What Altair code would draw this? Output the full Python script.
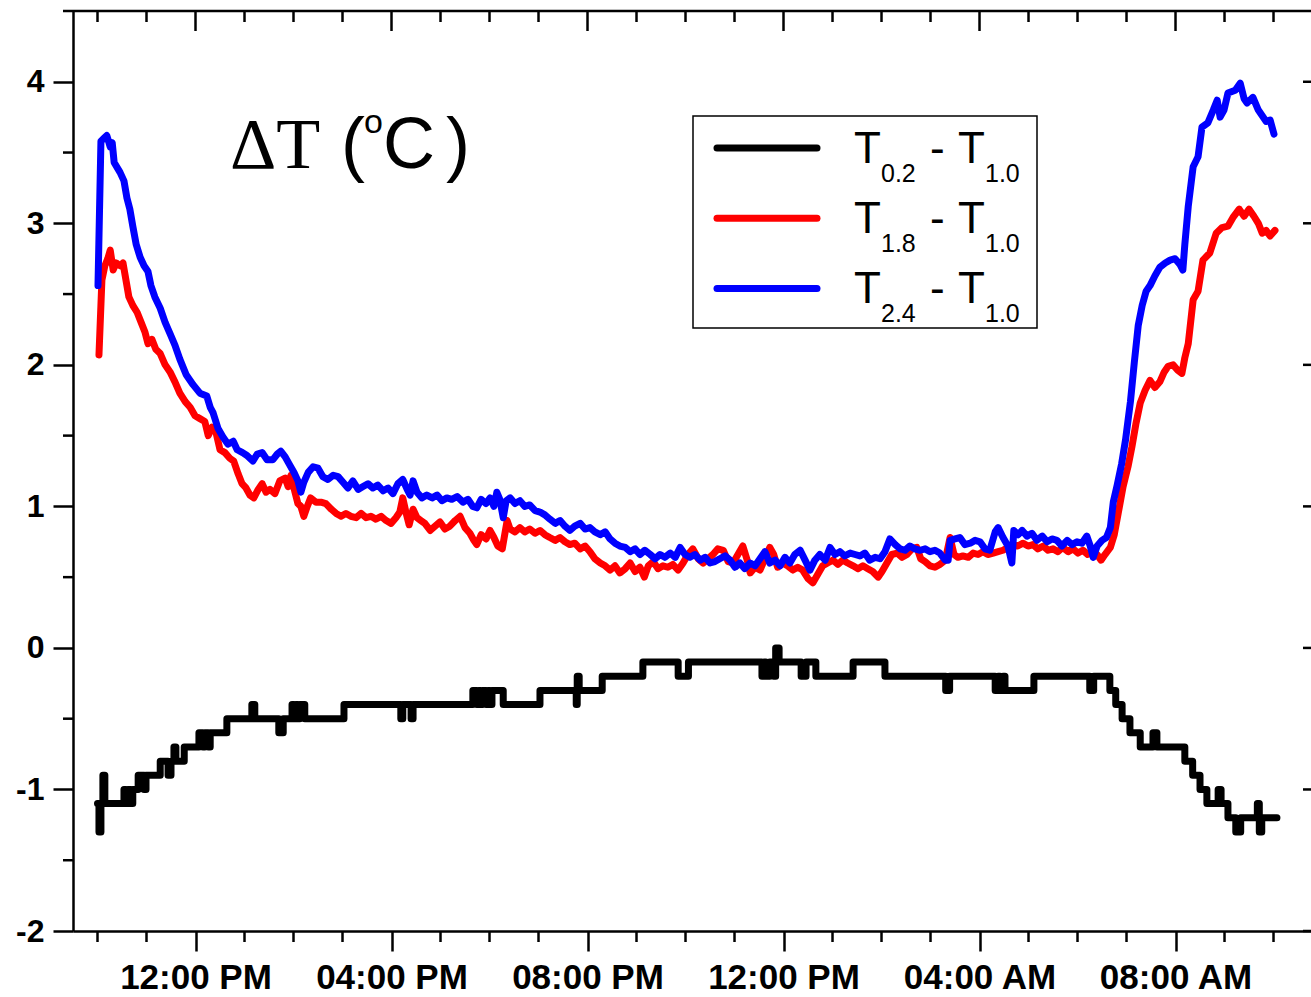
import json

import altair as alt
import pandas as pd

# ---------------------------------------------------------------------------
# Temperature differences between sensor heights (°C) over one day.
# Time is given in hours after 10:00 AM.
# ---------------------------------------------------------------------------

# T0.2 - T1.0 (logged at 0.1 °C resolution, drawn as steps)
BLACK_H = [0.00, 0.03, 0.07, 0.11, 0.15, 0.54, 0.58, 0.62, 0.68, 0.72, 0.83, 0.95,
           0.99, 1.28, 1.44, 1.50, 1.56, 1.60, 1.77, 2.07, 2.15, 2.19, 2.26, 2.30,
           2.64, 3.15, 3.21, 3.70, 3.79, 3.97, 4.01, 4.05, 4.09, 4.13, 4.23, 5.03,
           6.19, 6.23, 6.40, 6.44, 7.66, 7.74, 7.78, 7.82, 7.86, 7.93, 7.97, 8.01,
           8.05, 8.28, 9.03, 9.77, 9.79, 9.83, 10.30, 11.13, 11.85, 12.06, 13.56,
           13.60, 13.64, 13.72, 13.80, 13.84, 13.91, 14.36, 14.46, 14.66, 15.42,
           16.07, 17.31, 17.39, 18.32, 18.38, 18.42, 18.48, 18.52, 19.11, 20.25,
           20.33, 20.66, 20.78, 20.91, 21.07, 21.28, 21.54, 21.62, 22.19, 22.35,
           22.50, 22.64, 22.87, 22.93, 23.07, 23.23, 23.33, 23.67, 23.71, 23.76,
           24.07]
BLACK_V = [-1.1, -1.3, -1.1, -0.9, -1.1, -1.0, -1.1, -1.0, -1.1, -1.0, -0.9, -1.0,
           -0.9, -0.8, -0.9, -0.8, -0.7, -0.8, -0.7, -0.6, -0.7, -0.6, -0.7, -0.6,
           -0.5, -0.4, -0.5, -0.6, -0.5, -0.4, -0.5, -0.4, -0.5, -0.4, -0.5, -0.4,
           -0.5, -0.4, -0.5, -0.4, -0.3, -0.4, -0.3, -0.4, -0.3, -0.4, -0.3, -0.4,
           -0.3, -0.4, -0.3, -0.4, -0.2, -0.3, -0.2, -0.1, -0.2, -0.1, -0.2,
           -0.1, -0.2, -0.1, -0.2, 0.0, -0.1, -0.2, -0.1, -0.2, -0.1,
           -0.2, -0.3, -0.2, -0.3, -0.2, -0.3, -0.2, -0.3, -0.2, -0.3,
           -0.2, -0.3, -0.4, -0.5, -0.6, -0.7, -0.6, -0.7, -0.8, -0.9,
           -1.0, -1.1, -1.0, -1.1, -1.2, -1.3, -1.2, -1.1, -1.3, -1.2,
           -1.2]

# T1.8 - T1.0
RED_H = [0.03, 0.09, 0.15, 0.21, 0.26, 0.32, 0.38, 0.46, 0.52, 0.58, 0.64, 0.72,
         0.81, 0.89, 0.97, 1.03, 1.11, 1.19, 1.28, 1.38, 1.48, 1.58, 1.68, 1.79,
         1.89, 1.99, 2.09, 2.19, 2.26, 2.34, 2.42, 2.50, 2.60, 2.70, 2.78, 2.87,
         2.95, 3.03, 3.11, 3.19, 3.28, 3.36, 3.44, 3.52, 3.62, 3.72, 3.83, 3.89,
         3.95, 4.03, 4.09, 4.15, 4.21, 4.27, 4.35, 4.46, 4.56, 4.66, 4.77, 4.87,
         4.97, 5.07, 5.17, 5.28, 5.38, 5.48, 5.58, 5.68, 5.79, 5.89, 5.99, 6.09,
         6.17, 6.23, 6.30, 6.36, 6.44, 6.52, 6.60, 6.68, 6.79, 6.89, 6.99, 7.09,
         7.19, 7.30, 7.40, 7.50, 7.60, 7.68, 7.74, 7.83, 7.93, 8.01, 8.09, 8.17,
         8.26, 8.36, 8.42, 8.52, 8.62, 8.72, 8.82, 8.93, 9.03, 9.13, 9.23, 9.34,
         9.44, 9.54, 9.64, 9.74, 9.85, 9.95, 10.05, 10.15, 10.26, 10.36, 10.46,
         10.56, 10.66, 10.77, 10.87, 10.97, 11.07, 11.16, 11.24, 11.34, 11.44,
         11.54, 11.64, 11.74, 11.85, 11.95, 12.05, 12.15, 12.26, 12.36, 12.46,
         12.56, 12.66, 12.77, 12.87, 12.97, 13.07, 13.17, 13.26, 13.32, 13.42,
         13.52, 13.62, 13.72, 13.80, 13.88, 13.98, 14.08, 14.19, 14.29, 14.39,
         14.50, 14.60, 14.70, 14.80, 14.90, 15.01, 15.11, 15.21, 15.31, 15.42,
         15.52, 15.62, 15.72, 15.82, 15.93, 16.01, 16.11, 16.21, 16.32, 16.42,
         16.52, 16.62, 16.72, 16.80, 16.89, 16.99, 17.09, 17.19, 17.30, 17.40,
         17.48, 17.56, 17.66, 17.77, 17.87, 17.97, 18.07, 18.17, 18.28, 18.38,
         18.48, 18.58, 18.68, 18.78, 18.89, 18.99, 19.09, 19.19, 19.30, 19.40,
         19.50, 19.60, 19.70, 19.81, 19.91, 20.01, 20.11, 20.21, 20.32, 20.40,
         20.48, 20.56, 20.67, 20.75, 20.83, 20.93, 21.03, 21.11, 21.19, 21.28,
         21.38, 21.48, 21.58, 21.68, 21.77, 21.85, 21.95, 22.05, 22.13, 22.19,
         22.26, 22.36, 22.46, 22.56, 22.70, 22.83, 22.95, 23.07, 23.17, 23.30,
         23.40, 23.50, 23.60, 23.69, 23.77, 23.85, 23.93, 24.03]
RED_V = [2.07, 2.60, 2.70, 2.75, 2.81, 2.67, 2.72, 2.70, 2.72, 2.60, 2.48, 2.42,
         2.37, 2.30, 2.23, 2.15, 2.18, 2.11, 2.08, 2.00, 1.95, 1.88, 1.80, 1.74,
         1.70, 1.64, 1.62, 1.60, 1.50, 1.56, 1.52, 1.40, 1.38, 1.34, 1.32, 1.23,
         1.16, 1.13, 1.08, 1.06, 1.12, 1.16, 1.10, 1.12, 1.09, 1.18, 1.20, 1.14,
         1.22, 1.10, 1.02, 1.00, 0.93, 0.99, 1.06, 1.03, 1.03, 1.02, 0.98, 0.95,
         0.93, 0.95, 0.93, 0.92, 0.95, 0.92, 0.93, 0.91, 0.93, 0.90, 0.88, 0.92,
         0.96, 1.06, 0.95, 0.87, 0.98, 0.92, 0.90, 0.88, 0.83, 0.86, 0.89, 0.84,
         0.86, 0.90, 0.93, 0.85, 0.81, 0.76, 0.73, 0.80, 0.77, 0.83, 0.78, 0.72,
         0.70, 0.90, 0.84, 0.82, 0.85, 0.82, 0.84, 0.81, 0.83, 0.80, 0.78, 0.76,
         0.78, 0.75, 0.73, 0.74, 0.70, 0.72, 0.68, 0.63, 0.60, 0.58, 0.55,
         0.58, 0.53, 0.56, 0.60, 0.54, 0.57, 0.50, 0.58, 0.61, 0.56,
         0.58, 0.57, 0.59, 0.55, 0.60, 0.66, 0.70, 0.63, 0.60, 0.63,
         0.66, 0.70, 0.69, 0.61, 0.60, 0.66, 0.72, 0.62, 0.53, 0.57,
         0.55, 0.63, 0.71, 0.66, 0.57, 0.60, 0.58, 0.55, 0.57, 0.55,
         0.49, 0.46, 0.52, 0.58, 0.60, 0.62, 0.59, 0.62, 0.60, 0.58,
         0.56, 0.58, 0.56, 0.54, 0.50, 0.54, 0.60, 0.66, 0.67, 0.64,
         0.66, 0.70, 0.71, 0.63, 0.61, 0.58, 0.57, 0.59, 0.62, 0.78,
         0.66, 0.64, 0.65, 0.64, 0.67, 0.66, 0.68, 0.66, 0.67, 0.68,
         0.69, 0.71, 0.73, 0.72, 0.74, 0.72, 0.73, 0.70, 0.72, 0.69,
         0.70, 0.68, 0.71, 0.68, 0.70, 0.67, 0.69, 0.66, 0.68, 0.66,
         0.62, 0.66, 0.71, 0.80, 0.95, 1.14, 1.28, 1.42, 1.58, 1.73,
         1.82, 1.89, 1.84, 1.88, 1.95, 1.99, 2.00, 1.96, 1.94, 2.05,
         2.15, 2.46, 2.52, 2.74, 2.79, 2.93, 2.97, 2.98, 3.04, 3.10,
         3.05, 3.10, 3.05, 3.00, 2.93, 2.95, 2.91, 2.95]

# T2.4 - T1.0
BLUE_H = [0.01, 0.07, 0.13, 0.19, 0.26, 0.30, 0.34, 0.46, 0.54, 0.60, 0.66, 0.72,
          0.79, 0.87, 0.95, 1.03, 1.09, 1.17, 1.28, 1.38, 1.48, 1.58, 1.68, 1.81,
          1.95, 2.09, 2.23, 2.30, 2.36, 2.46, 2.56, 2.66, 2.77, 2.85, 2.96, 3.05,
          3.17, 3.26, 3.36, 3.46, 3.58, 3.67, 3.74, 3.83, 3.91, 4.01, 4.09, 4.15,
          4.21, 4.30, 4.40, 4.50, 4.60, 4.70, 4.81, 4.91, 5.01, 5.11, 5.21, 5.32,
          5.42, 5.52, 5.62, 5.72, 5.83, 5.93, 6.03, 6.13, 6.23, 6.32, 6.38, 6.44,
          6.52, 6.62, 6.72, 6.83, 6.93, 7.03, 7.13, 7.23, 7.34, 7.46, 7.56, 7.66,
          7.74, 7.83, 7.93, 8.01, 8.09, 8.15, 8.21, 8.28, 8.34, 8.42, 8.52, 8.62,
          8.72, 8.82, 8.93, 9.03, 9.13, 9.23, 9.34, 9.44, 9.54, 9.64, 9.74, 9.85,
          9.95, 10.05, 10.15, 10.26, 10.36, 10.46, 10.56, 10.66, 10.77, 10.87,
          10.97, 11.07, 11.17, 11.28, 11.38, 11.48, 11.58, 11.69, 11.79, 11.89,
          11.99, 12.09, 12.19, 12.30, 12.40, 12.50, 12.60, 12.70, 12.81, 12.91,
          13.01, 13.11, 13.21, 13.32, 13.42, 13.52, 13.62, 13.72, 13.83, 13.93,
          14.03, 14.13, 14.23, 14.34, 14.44, 14.54, 14.64, 14.74, 14.85, 14.95,
          15.05, 15.15, 15.25, 15.36, 15.46, 15.56, 15.66, 15.76, 15.87, 15.97,
          16.07, 16.17, 16.28, 16.38, 16.48, 16.58, 16.68, 16.79, 16.89, 16.99,
          17.09, 17.19, 17.30, 17.36, 17.40, 17.50, 17.60, 17.70, 17.81, 17.91,
          18.01, 18.11, 18.21, 18.32, 18.38, 18.48, 18.58, 18.66, 18.70, 18.79,
          18.87, 18.97, 19.07, 19.17, 19.28, 19.38, 19.48, 19.58, 19.68, 19.79,
          19.89, 19.99, 20.09, 20.19, 20.26, 20.32, 20.40, 20.50, 20.59, 20.67,
          20.73, 20.81, 20.90, 20.98, 21.08, 21.16, 21.24, 21.32, 21.40, 21.48,
          21.58, 21.68, 21.79, 21.89, 21.99, 22.09, 22.15, 22.19, 22.26, 22.36,
          22.46, 22.54, 22.66, 22.77, 22.85, 22.91, 22.99, 23.07, 23.22, 23.32,
          23.40, 23.46, 23.58, 23.69, 23.77, 23.85, 23.93, 24.01]
BLUE_V = [2.56, 3.58, 3.60, 3.62, 3.54, 3.57, 3.43, 3.36, 3.30, 3.18, 3.10, 2.98,
          2.85, 2.76, 2.70, 2.66, 2.56, 2.48, 2.40, 2.30, 2.22, 2.14, 2.04, 1.93,
          1.86, 1.80, 1.78, 1.70, 1.66, 1.55, 1.49, 1.44, 1.46, 1.40, 1.38, 1.36,
          1.32, 1.37, 1.38, 1.33, 1.33, 1.37, 1.39, 1.35, 1.30, 1.24, 1.18, 1.10,
          1.17, 1.24, 1.28, 1.27, 1.21, 1.19, 1.22, 1.21, 1.17, 1.13, 1.18, 1.12,
          1.14, 1.16, 1.13, 1.15, 1.11, 1.13, 1.09, 1.16, 1.19, 1.12, 1.08, 1.18,
          1.10, 1.06, 1.08, 1.06, 1.08, 1.04, 1.06, 1.05, 1.07, 1.03, 1.05, 1.00,
          0.99, 1.05, 1.02, 1.06, 1.00, 1.10, 1.05, 0.92, 1.04, 1.06, 1.02, 1.04,
          1.00, 1.01, 0.97, 0.96, 0.94, 0.91, 0.88, 0.90, 0.86, 0.83, 0.86, 0.88,
          0.84, 0.85, 0.82, 0.80, 0.82, 0.77, 0.74, 0.72, 0.71, 0.68,
          0.70, 0.66, 0.69, 0.66, 0.63, 0.66, 0.64, 0.67, 0.64, 0.71,
          0.66, 0.64, 0.66, 0.62, 0.64, 0.60, 0.61, 0.63, 0.65, 0.62,
          0.57, 0.60, 0.56, 0.60, 0.58, 0.63, 0.68, 0.60, 0.62, 0.58,
          0.64, 0.60, 0.66, 0.69, 0.62, 0.55, 0.62, 0.66, 0.62, 0.71,
          0.66, 0.68, 0.65, 0.67, 0.66, 0.65, 0.67, 0.62, 0.64, 0.63,
          0.68, 0.77, 0.73, 0.70, 0.69, 0.72, 0.70, 0.69, 0.70, 0.68,
          0.69, 0.67, 0.62, 0.62, 0.76, 0.77, 0.78, 0.73, 0.74, 0.76,
          0.75, 0.70, 0.69, 0.82, 0.85, 0.78, 0.72, 0.60, 0.83, 0.80,
          0.83, 0.79, 0.81, 0.76, 0.79, 0.75, 0.77, 0.76, 0.72, 0.76,
          0.73, 0.75, 0.74, 0.79, 0.72, 0.64, 0.72, 0.76, 0.78, 0.85,
          1.03, 1.15, 1.30, 1.47, 1.74, 2.02, 2.28, 2.42, 2.52, 2.56,
          2.63, 2.69, 2.72, 2.74, 2.75, 2.71, 2.67, 2.85, 3.12, 3.40,
          3.47, 3.68, 3.71, 3.80, 3.87, 3.75, 3.80, 3.92, 3.94, 3.99,
          3.88, 3.85, 3.89, 3.80, 3.76, 3.72, 3.73, 3.63]

SUBSCRIPTS = ["0.2", "1.8", "2.4"]
REFERENCE_SUB = "1.0"
LINE_COLORS = ["#000000", "#ff0000", "#0000ff"]

TIME_TICKS = [2, 6, 10, 14, 18, 22]
TIME_LABELS = ["12:00 PM", "04:00 PM", "08:00 PM", "12:00 PM", "04:00 AM", "08:00 AM"]
HOUR_MARKS = list(range(0, 25))
Y_MAJOR = [-2, -1, 0, 1, 2, 3, 4]
Y_MINOR = [-1.5, -0.5, 0.5, 1.5, 2.5, 3.5, 4.5]

# ---------------------------------------------------------------------------
W, H = 1238, 920
SANS = "Liberation Sans, Arial, Helvetica, sans-serif"
SERIF = "Liberation Serif, Times New Roman, serif"
LW = 7
FRAME_W = 2.5

x_scale = alt.Scale(domain=[-0.5, 24.765], nice=False, zero=False)
y_scale = alt.Scale(domain=[-2, 4.5], nice=False, zero=False)

time_label_expr = "{}[indexof({}, datum.value)]".format(
    json.dumps(TIME_LABELS), json.dumps(TIME_TICKS))

# One shared definition per axis; every layer that uses a scale repeats it so
# that the layers merge into a single bottom axis and a single left axis.
X_AXIS = alt.Axis(
    orient="bottom", values=TIME_TICKS, labelExpr=time_label_expr, title=None,
    grid=False, domainColor="black", domainWidth=FRAME_W, tickColor="black",
    tickWidth=FRAME_W, tickSize=20, labelFont=SANS, labelFontWeight="bold",
    labelFontSize=35, labelColor="black", labelPadding=9, labelFlush=False,
    labelOverlap=False)
Y_AXIS = alt.Axis(
    orient="left", values=Y_MAJOR, labelExpr="'' + datum.value", title=None,
    grid=False, domainColor="black", domainWidth=FRAME_W, tickColor="black",
    tickWidth=FRAME_W, tickSize=20, labelFont=SANS, labelFontWeight="bold",
    labelFontSize=32, labelColor="black", labelPadding=9, labelFlush=False,
    labelOverlap=False)


def X(field="h"):
    return alt.X(f"{field}:Q", scale=x_scale, axis=X_AXIS, title=None)


def Y(field="v"):
    return alt.Y(f"{field}:Q", scale=y_scale, axis=Y_AXIS, title=None)


black_df = pd.DataFrame({"h": BLACK_H, "v": BLACK_V})
red_df = pd.DataFrame({"h": RED_H, "v": RED_V})
blue_df = pd.DataFrame({"h": BLUE_H, "v": BLUE_V})


def series_line(df, color, interpolate="linear"):
    return alt.Chart(df).mark_line(
        interpolate=interpolate, color=color, strokeWidth=LW,
        strokeJoin="round", strokeCap="round").encode(x=X(), y=Y())


black = series_line(black_df, LINE_COLORS[0], "step-after")
red = series_line(red_df, LINE_COLORS[1])
blue = series_line(blue_df, LINE_COLORS[2])

# ---- minor / mirrored ticks and the top edge of the frame ----
one_row = pd.DataFrame({"k": [0]})
minor_hours = pd.DataFrame({"h": [h for h in HOUR_MARKS if h not in TIME_TICKS]})
major_hours = pd.DataFrame({"h": TIME_TICKS})


def vtick(df, y0, y1):
    return alt.Chart(df).mark_rule(color="black", strokeWidth=FRAME_W).encode(
        x=X(), y=alt.value(y0), y2=alt.value(y1))


def htick(values, x0, x1):
    return alt.Chart(pd.DataFrame({"v": values})).mark_rule(
        color="black", strokeWidth=FRAME_W).encode(
        y=Y(), x=alt.value(x0), x2=alt.value(x1))


top_edge = alt.Chart(one_row).mark_rule(color="black", strokeWidth=FRAME_W).encode(
    x=alt.value(0), x2=alt.value(W), y=alt.value(0))
top_major = vtick(major_hours, 0, 20)
top_minor = vtick(minor_hours, 0, 11)
bottom_minor = vtick(minor_hours, H, H + 11)
left_minor = htick(Y_MINOR, -10, 0)
right_major = htick(Y_MAJOR, W - 8, W)

# ---- annotation text ----


def label(text, x, y, size, font=SANS, weight="normal"):
    return alt.Chart(one_row).mark_text(
        align="left", baseline="alphabetic", font=font, fontSize=size,
        fontWeight=weight, color="black").encode(
        x=alt.value(x), y=alt.value(y), text=alt.value(text))


title_parts = [
    label("\u0394T", 157, 157, 72, font=SERIF),
    label("(", 268, 157, 72),
    label("o", 291, 122, 34),
    label("C", 310, 157, 72),
    label(")", 373, 157, 72),
]

legend_box = alt.Chart(one_row).mark_rect(
    fill="white", stroke="black", strokeWidth=1.5).encode(
    x=alt.value(620), x2=alt.value(964), y=alt.value(105), y2=alt.value(317))

legend_parts = [legend_box]
for i, (sub, col) in enumerate(zip(SUBSCRIPTS, LINE_COLORS)):
    base = 152 + 70.2 * i
    legend_parts.append(
        alt.Chart(one_row).mark_rule(color=col, strokeWidth=7, strokeCap="round").encode(
            x=alt.value(644), x2=alt.value(744),
            y=alt.value(base - 15), y2=alt.value(base - 15)))
    legend_parts += [
        label("T", 781, base, 44),
        label(sub, 808, base + 18.5, 25),
        label("-", 857, base, 44),
        label("T", 885, base, 44),
        label(REFERENCE_SUB, 912, base + 18.5, 25),
    ]

chart = alt.layer(
    top_edge, top_major, top_minor, bottom_minor, left_minor, right_major,
    black, red, blue,
    *title_parts, *legend_parts,
).properties(
    width=W, height=H,
    padding={"left": 73, "top": 11, "right": 0, "bottom": 66},
    autosize=alt.AutoSizeParams(type="none"),
    background="white",
).configure_view(stroke=None)

chart.save("out.html", embed_options={"renderer": "svg", "actions": False})
